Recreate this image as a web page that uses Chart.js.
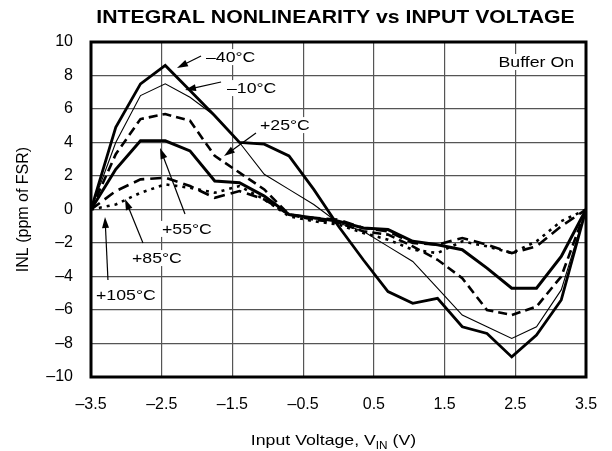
<!DOCTYPE html>
<html>
<head>
<meta charset="utf-8">
<script src="https://cdn.jsdelivr.net/npm/chart.js@4.4.1/dist/chart.umd.min.js"></script>
<style>
  html, body { margin: 0; padding: 0; background: #fff; }
  #inl { display: block; }
</style>
</head>
<body>
<canvas id="inl" width="612" height="451"></canvas>
<script>
// input voltage samples (V)
var vin = [-3.5, -3.15, -2.8, -2.45, -2.1, -1.75, -1.4, -1.05, -0.7, -0.35, 0,
           0.35, 0.7, 1.05, 1.4, 1.75, 2.1, 2.45, 2.8, 3.15, 3.5];

// INL (ppm of FSR) per temperature
var inlM40 = [0, 4.9, 7.5, 8.6, 7.1, 5.6, 4.0, 3.9, 3.2, 1.2, -1.0,
              -3.0, -4.9, -5.6, -5.3, -7.0, -7.4, -8.8, -7.5, -5.4, 0];
var inlM10 = [0, 4.0, 6.8, 7.5, 6.7, 5.6, 4.0, 2.1, 1.2, 0.3, -0.8,
              -1.3, -2.2, -3.1, -4.7, -6.3, -7.0, -7.7, -7.0, -4.8, 0];
var inl25 = [0, 3.3, 5.4, 5.7, 5.3, 3.2, 2.2, 1.2, -0.3, -0.6, -0.8,
             -1.3, -1.5, -2.2, -3.0, -4.1, -6.0, -6.3, -5.8, -4.0, 0];
var inl55 = [0, 2.4, 4.1, 4.1, 3.5, 1.7, 1.6, 0.8, -0.3, -0.5, -0.7,
             -1.1, -1.2, -1.9, -2.1, -2.4, -3.5, -4.7, -4.7, -2.8, 0];
var inl85 = [0, 1.1, 1.8, 1.9, 1.4, 0.7, 1.1, 0.6, -0.3, -0.5, -0.6,
             -1.1, -1.3, -2.0, -2.1, -1.7, -2.1, -2.6, -2.2, -1.0, 0];
var inl105 = [0, 0.3, 1.0, 1.5, 1.3, 1.0, 1.4, 0.6, -0.4, -0.7, -0.9,
              -1.4, -1.8, -2.4, -2.6, -1.9, -2.2, -2.6, -1.9, -0.7, 0];

// tick labels
var xTicks = [-3.5, -2.5, -1.5, -0.5, 0.5, 1.5, 2.5, 3.5];
var yTicks = [-10, -8, -6, -4, -2, 0, 2, 4, 6, 8, 10];

var FONT = '"Liberation Sans", Arial, Helvetica, sans-serif';
var SX = 1.18; // the original type is set a bit wide

function dash(v) {
    return v < 0 ? '\u2013' + Math.abs(v) : '' + v;
}

function pts(ys) {
    return vin.map(function (x, i) { return { x: x, y: ys[i] }; });
}

// curve labels: text spot and arrow, in data units
var notes = [
    { text: '\u201340\u00b0C', tx: -1.874, ty: 9.10, ax: -1.944, ay: 9.16, bx: -2.284, by: 8.45 },
    { text: '\u201310\u00b0C', tx: -1.577, ty: 7.25, ax: -1.661, ay: 7.61, bx: -2.171, by: 7.13 },
    { text: '+25\u00b0C', tx: -1.110, ty: 5.04, ax: -1.167, ay: 4.57, bx: -1.619, by: 3.19 },
    { text: '+55\u00b0C', tx: -2.496, ty: -1.16, ax: -2.171, ay: -0.27, bx: -2.524, by: 3.67 },
    { text: '+85\u00b0C', tx: -2.920, ty: -2.90, ax: -2.765, ay: -2.0, bx: -3.019, by: 0.63 },
    { text: '+105\u00b0C', tx: -3.429, ty: -5.10, ax: -3.260, ay: -4.21, bx: -3.302, by: -0.45 }
];

// wide text, returns drawn width
function wtext(ctx, s, x, y, align) {
    var w = ctx.measureText(s).width * SX;
    var x0 = align === 'center' ? x - w / 2 : align === 'right' ? x - w : x;
    ctx.save();
    ctx.translate(x0, y);
    ctx.scale(SX, 1);
    ctx.textAlign = 'left';
    ctx.fillText(s, 0, 0);
    ctx.restore();
    return w;
}

function arrow(ctx, x1, y1, x2, y2) {
    var a = Math.atan2(y2 - y1, x2 - x1);
    var len = 11, w = 3.5;
    ctx.beginPath();
    ctx.moveTo(x1, y1);
    ctx.lineTo(x2 - Math.cos(a) * len * 0.8, y2 - Math.sin(a) * len * 0.8);
    ctx.lineWidth = 1.2;
    ctx.strokeStyle = '#000';
    ctx.stroke();
    ctx.beginPath();
    ctx.moveTo(x2, y2);
    ctx.lineTo(x2 - Math.cos(a) * len - Math.sin(a) * w, y2 - Math.sin(a) * len + Math.cos(a) * w);
    ctx.lineTo(x2 - Math.cos(a) * len + Math.sin(a) * w, y2 - Math.sin(a) * len - Math.cos(a) * w);
    ctx.closePath();
    ctx.fillStyle = '#000';
    ctx.fill();
}

var decor = {
    id: 'decor',
    afterDraw: function (chart) {
        var ctx = chart.ctx, a = chart.chartArea;
        var xs = chart.scales.x, ys = chart.scales.y;
        ctx.save();

        // labels on white patches, then arrows
        ctx.font = '15px ' + FONT;
        ctx.textBaseline = 'middle';
        notes.forEach(function (n) {
            var px = xs.getPixelForValue(n.tx), py = ys.getPixelForValue(n.ty);
            var w = ctx.measureText(n.text).width * SX;
            ctx.fillStyle = '#fff';
            ctx.fillRect(px - 1, py - 8, w + 2, 16);
            ctx.fillStyle = '#000';
            wtext(ctx, n.text, px, py + 1, 'left');
            arrow(ctx, xs.getPixelForValue(n.ax), ys.getPixelForValue(n.ay),
                  xs.getPixelForValue(n.bx), ys.getPixelForValue(n.by));
        });

        ctx.fillStyle = '#fff';
        ctx.fillRect(a.right - 92, a.top + 12, 82, 16);
        ctx.fillStyle = '#000';
        wtext(ctx, 'Buffer On', a.right - 12, a.top + 21, 'right');

        // frame
        ctx.lineWidth = 3;
        ctx.strokeStyle = '#000';
        ctx.strokeRect(a.left, a.top, a.right - a.left, a.bottom - a.top);

        // title
        ctx.textBaseline = 'alphabetic';
        ctx.font = 'bold 18px ' + FONT;
        wtext(ctx, 'INTEGRAL NONLINEARITY vs INPUT VOLTAGE', (a.left + a.right) / 2 - 3, 23, 'center');

        // x title with subscript
        var p1 = 'Input Voltage, V', sub = 'IN', p2 = ' (V)';
        ctx.font = '15px ' + FONT;
        var w1 = ctx.measureText(p1).width * SX, w3 = ctx.measureText(p2).width * SX;
        ctx.font = '10px ' + FONT;
        var w2 = ctx.measureText(sub).width * SX;
        var x0 = (a.left + a.right) / 2 - 5 - (w1 + w2 + w3) / 2;
        ctx.font = '15px ' + FONT;
        wtext(ctx, p1, x0, 445, 'left');
        ctx.font = '10px ' + FONT;
        wtext(ctx, sub, x0 + w1, 449, 'left');
        ctx.font = '15px ' + FONT;
        wtext(ctx, p2, x0 + w1 + w2, 445, 'left');

        // y title
        ctx.translate(28, (a.top + a.bottom) / 2);
        ctx.rotate(-Math.PI / 2);
        ctx.font = '16px ' + FONT;
        ctx.textAlign = 'center';
        ctx.fillText('INL (ppm of FSR)', 0, 0);
        ctx.restore();
    }
};

function line(label, ys, width, dashes) {
    return {
        label: label,
        data: pts(ys),
        borderColor: '#000',
        borderWidth: width,
        borderDash: dashes,
        pointRadius: 0,
        tension: 0,
        fill: false
    };
}

var ctx = document.getElementById('inl');

var myChart = new Chart(ctx, {
    type: 'line',
    data: {
        datasets: [
            line('\u221240\u00b0C', inlM40, 2.8, []),
            line('\u221210\u00b0C', inlM10, 1.1, []),
            line('+25\u00b0C', inl25, 2.6, [9, 5]),
            line('+55\u00b0C', inl55, 3, []),
            line('+85\u00b0C', inl85, 2.6, [11, 6]),
            line('+105\u00b0C', inl105, 2.6, [3, 5])
        ]
    },
    options: {
        responsive: false,
        animation: false,
        layout: { padding: { top: 42, right: 26, bottom: 0, left: 0 } },
        plugins: {
            legend: { display: false },
            tooltip: { enabled: false }
        },
        scales: {
            x: {
                type: 'linear',
                min: -3.5,
                max: 3.5,
                afterBuildTicks: function (s) {
                    s.ticks = xTicks.map(function (v) { return { value: v }; });
                },
                afterFit: function (s) {
                    s.height = 74;
                    s.paddingLeft = 0;
                    s.paddingRight = 0;
                },
                grid: { color: '#555', lineWidth: 1.2, drawTicks: false },
                border: { display: false },
                ticks: {
                    padding: 18,
                    color: '#000',
                    font: { family: FONT, size: 16 },
                    maxRotation: 0,
                    autoSkip: false,
                    callback: function (v) { return dash(v); }
                }
            },
            y: {
                min: -10,
                max: 10,
                afterBuildTicks: function (s) {
                    s.ticks = yTicks.map(function (v) { return { value: v }; });
                },
                afterFit: function (s) { s.width = 91; },
                grid: { color: '#555', lineWidth: 1.2, drawTicks: false },
                border: { display: false },
                ticks: {
                    padding: 18,
                    color: '#000',
                    font: { family: FONT, size: 16 },
                    autoSkip: false,
                    callback: function (v) { return dash(v); }
                }
            }
        }
    },
    plugins: [decor]
});
</script>
</body>
</html>
